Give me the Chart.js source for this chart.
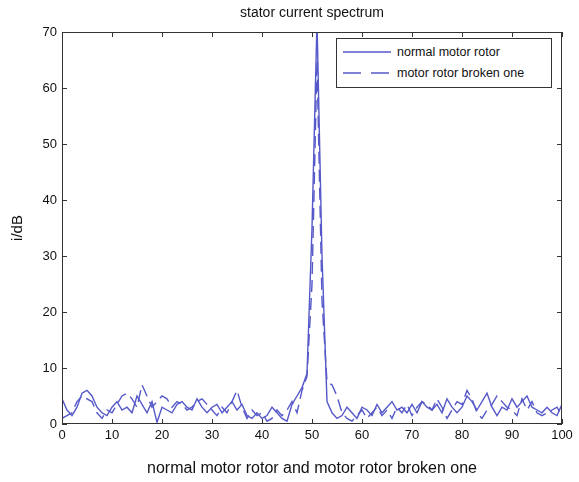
<!DOCTYPE html>
<html>
<head>
<meta charset="utf-8">
<script src="https://cdn.jsdelivr.net/npm/chart.js@4"></script>
<style>
    body { margin: 0; background: #fff; }
    #wrap { position: relative; width: 579px; height: 482px; font-family: "Liberation Sans", Arial, sans-serif; }
    #chartTitle { position: absolute; left: 62px; width: 500px; top: 4px; text-align: center; font-size: 14px; color: #111; }
    #legendBox {
        position: absolute; left: 336px; top: 38px; width: 216px; height: 50px;
        border: 1px solid #333; background: #fff; box-sizing: border-box;
        font-size: 12.5px; color: #111;
    }
    .row { position: absolute; left: 6px; height: 16px; display: flex; align-items: center; }
    .row svg { margin-right: 6px; }
</style>
</head>
<body>
<div id="wrap">
    <canvas id="spectrum" width="579" height="482"></canvas>
    <div id="chartTitle">stator current spectrum</div>
    <div id="legendBox">
        <div class="row" style="top:5px"><svg width="48" height="4"><line x1="0" y1="2" x2="48" y2="2" stroke="#5558c8" stroke-width="1.5"/></svg>normal motor rotor</div>
        <div class="row" style="top:26px"><svg width="48" height="4"><line x1="0" y1="2" x2="48" y2="2" stroke="#5558c8" stroke-width="1.5" stroke-dasharray="18 10"/></svg>motor rotor broken one</div>
    </div>
</div>
<script>
const freq = [];
for (let i = 0; i <= 100; i++) freq.push(i);

const normalRotor = [4.5, 2.5, 1.5, 3, 5.5, 6, 5, 3, 2, 1.5, 3, 4, 2.5, 3, 2, 5, 3.5, 2, 4, 0.3,
    3, 2.5, 2, 3.5, 4, 3, 2.5, 4.5, 3, 2, 3, 3.5, 2, 3, 4, 2.5, 3.5, 1.5, 1, 2,
    1, 1.5, 3, 2, 1, 0.5, 3.5, 5, 6.5, 9, 35, 72, 30, 4, 2, 1, 1.5, 3, 2, 1,
    3, 2.5, 1.5, 3.5, 2, 3, 4, 2.5, 3, 2, 3.5, 2, 4, 3, 2.5, 3.5, 2, 4.5, 3, 2,
    3, 5, 4, 2.5, 4, 5.5, 3, 1.5, 3, 2.5, 4.5, 3, 4, 5, 3, 2.5, 2, 3, 2, 1.5, 3.5];

const brokenRotor = [1, 1.5, 2, 4, 5, 4.5, 4, 2, 1, 2.5, 2, 3.5, 5, 5.5, 4.5, 3, 7, 5, 3, 4,
    5, 4.5, 3, 4, 3.5, 2.5, 3, 4, 4.5, 3.5, 2.5, 1.5, 3, 2, 4, 6, 3, 1, 2.5, 1.5,
    2, 0.5, 1, 2.5, 1.5, 2.5, 4, 2, 6, 8.5, 25, 65, 22, 7.5, 7, 5, 2, 1, 0.5, 1.5,
    2.5, 1, 2, 3, 1.5, 2.5, 1, 3, 2, 3.5, 1.5, 3, 4, 3.5, 2.5, 4.5, 3, 1, 2.5, 4,
    3.5, 6, 4.5, 2, 1, 2.5, 3.5, 5, 4, 3, 2.5, 1.5, 4.5, 2.5, 4, 2, 1.5, 2, 2.5, 3, 1.5];

const xTicks = [0, 10, 20, 30, 40, 50, 60, 70, 80, 90, 100];
const yTicks = [0, 10, 20, 30, 40, 50, 60, 70];

const lineColor = "#5558c8";
const font = "'Liberation Sans', Arial, sans-serif";

// matlab style inward tick marks + box
const innerTicks = {
    id: "innerTicks",
    afterDraw(chart) {
        const ctx = chart.ctx;
        const a = chart.chartArea;
        const xs = chart.scales.x, ys = chart.scales.y;
        ctx.save();
        ctx.strokeStyle = "#333";
        ctx.lineWidth = 1;
        ctx.beginPath();
        xTicks.forEach((t) => {
            const px = Math.round(xs.getPixelForValue(t)) + 0.5;
            ctx.moveTo(px, a.bottom); ctx.lineTo(px, a.bottom - 5);
            ctx.moveTo(px, a.top); ctx.lineTo(px, a.top + 5);
        });
        yTicks.forEach((t) => {
            const py = Math.round(ys.getPixelForValue(t)) + 0.5;
            ctx.moveTo(a.left, py); ctx.lineTo(a.left + 5, py);
            ctx.moveTo(a.right, py); ctx.lineTo(a.right - 5, py);
        });
        ctx.stroke();
        ctx.strokeRect(a.left + 0.5, a.top + 0.5, a.right - a.left - 1, a.bottom - a.top - 1);
        ctx.restore();
    },
};

new Chart(document.getElementById("spectrum"), {
    type: "line",
    data: {
        labels: freq,
        datasets: [
            {
                label: "normal motor rotor",
                data: normalRotor,
                borderColor: lineColor,
                borderWidth: 1.4,
                pointRadius: 0,
                tension: 0,
            },
            {
                label: "motor rotor broken one",
                data: brokenRotor,
                borderColor: lineColor,
                borderWidth: 1.4,
                borderDash: [12, 6],
                pointRadius: 0,
                tension: 0,
            },
        ],
    },
    options: {
        responsive: false,
        animation: false,
        layout: { padding: { top: 32, right: 17 } },
        scales: {
            x: {
                type: "linear",
                min: 0,
                max: 100,
                afterBuildTicks: (s) => { s.ticks = xTicks.map((v) => ({ value: v })); },
                afterFit: (s) => { s.height = 58; },
                grid: { display: false, drawTicks: false },
                border: { display: false },
                ticks: { color: "#111", font: { family: font, size: 13 }, padding: 4, maxRotation: 0 },
                title: { display: true, text: "normal motor rotor and motor rotor broken one", color: "#111", font: { family: font, size: 16 }, padding: { top: 10 } },
            },
            y: {
                min: 0,
                max: 70,
                afterBuildTicks: (s) => { s.ticks = yTicks.map((v) => ({ value: v })); },
                afterFit: (s) => { s.width = 62; },
                grid: { display: false, drawTicks: false },
                border: { display: false },
                ticks: { color: "#111", font: { family: font, size: 13 }, padding: 5 },
                title: { display: true, text: "i/dB", color: "#111", font: { family: font, size: 15 }, padding: { top: 9, bottom: 0 } },
            },
        },
        plugins: {
            legend: { display: false },
            tooltip: { enabled: false },
            title: { display: false },
        },
    },
    plugins: [innerTicks],
});
</script>
</body>
</html>
